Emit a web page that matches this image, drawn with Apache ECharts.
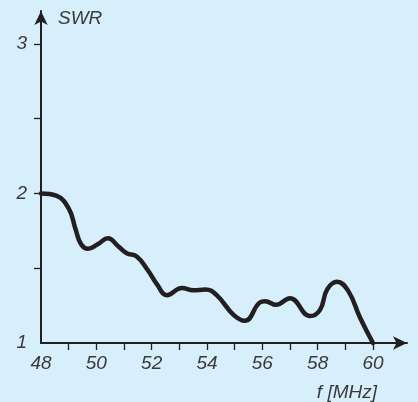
<!DOCTYPE html>
<html>
<head>
<meta charset="utf-8">
<script src="https://cdn.jsdelivr.net/npm/echarts@6/dist/echarts.min.js"></script>
<style>
  html, body { margin: 0; padding: 0; background: #d7eefb; }
  #chart { width: 418px; height: 402px; }
</style>
</head>
<body>
<div id="chart"></div>
<script>
// Standing-wave ratio versus frequency
const freqMHz = [48.0, 48.55, 49.0, 49.25, 49.45, 49.7, 50.05, 50.42, 50.8, 51.1, 51.45, 51.85, 52.2, 52.55, 53.1, 53.5, 53.95, 54.35, 54.95, 55.37, 55.9, 56.1, 56.5, 57.0, 57.72, 58.08, 58.35, 58.7, 59.1, 59.53, 60.0];
const swr = [2.00, 1.985, 1.90, 1.76, 1.66, 1.63, 1.66, 1.70, 1.645, 1.60, 1.58, 1.49, 1.39, 1.32, 1.368, 1.352, 1.357, 1.32, 1.19, 1.148, 1.27, 1.28, 1.255, 1.30, 1.18, 1.22, 1.36, 1.41, 1.35, 1.17, 1.00];

const xLabelValues = [48, 50, 52, 54, 56, 58, 60];
const xTickValues = [49, 50, 51, 52, 53, 54, 55, 56, 57, 58, 59, 60];
const yLabelValues = [1, 2, 3];
const yTickValues = [1.5, 2, 2.5, 3];

const textFont = "'Liberation Sans Narrow', 'Liberation Sans', Arial, sans-serif";
const textColor = '#3a3a3a';
const axisColor = '#231f20';

const chart = echarts.init(document.getElementById('chart'));
chart.setOption({
  backgroundColor: '#d7eefb',
  animation: false,
  grid: { left: 41, right: 11, top: 11, bottom: 56, containLabel: false },
  xAxis: {
    type: 'value',
    min: 48,
    max: 61.23,
    name: 'f [MHz]',
    nameLocation: 'end',
    nameGap: -30,
    nameTextStyle: {
      fontFamily: textFont, fontStyle: 'italic', fontSize: 19, color: textColor,
      align: 'right', verticalAlign: 'top', padding: [40, 0, 0, 0]
    },
    axisLine: {
      show: true, onZero: false,
      symbol: ['none', 'arrow'], symbolSize: [10, 14],
      lineStyle: { color: axisColor, width: 2 }
    },
    axisTick: {
      show: true, inside: false, length: 7, customValues: xTickValues,
      lineStyle: { color: axisColor, width: 1.3 }
    },
    axisLabel: {
      customValues: xLabelValues, margin: 11,
      fontFamily: textFont, fontStyle: 'italic', fontSize: 19, color: textColor
    },
    splitLine: { show: false }
  },
  yAxis: {
    type: 'value',
    min: 1,
    max: 3.22,
    name: 'SWR',
    nameLocation: 'end',
    nameGap: -8,
    nameTextStyle: {
      fontFamily: textFont, fontStyle: 'italic', fontSize: 19, color: textColor,
      align: 'left', verticalAlign: 'middle', padding: [0, 0, 0, 17]
    },
    axisLine: {
      show: true, onZero: false,
      symbol: ['none', 'arrow'], symbolSize: [10, 14],
      lineStyle: { color: axisColor, width: 2 }
    },
    axisTick: {
      show: true, inside: false, length: 7, customValues: yTickValues,
      lineStyle: { color: axisColor, width: 1.3 }
    },
    axisLabel: {
      customValues: yLabelValues, margin: 14,
      fontFamily: textFont, fontStyle: 'italic', fontSize: 19, color: textColor
    },
    splitLine: { show: false }
  },
  series: [{
    type: 'line',
    data: freqMHz.map((f, i) => [f, swr[i]]),
    smooth: 0.45,
    showSymbol: false,
    lineStyle: { color: axisColor, width: 4.5, cap: 'round', join: 'round' },
    clip: false
  }]
});
</script>
</body>
</html>
